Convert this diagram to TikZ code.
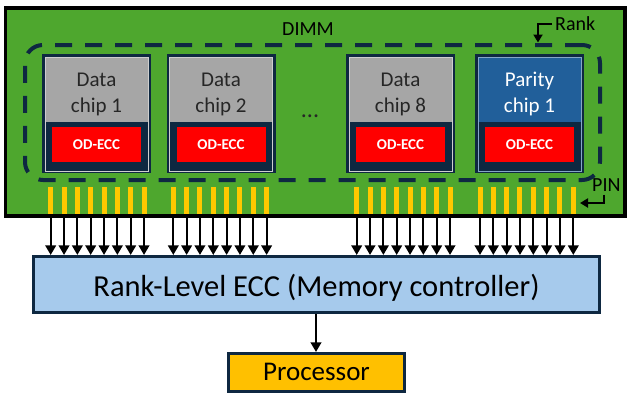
\documentclass[tikz,border=0pt]{standalone}
\usepackage{fontspec}
\setmainfont{Carlito}
\usetikzlibrary{arrows.meta}

\definecolor{boardgreen}{HTML}{4EA72E}
\definecolor{navy}{HTML}{0E2841}
\definecolor{chipgray}{HTML}{A6A6A6}
\definecolor{paritublue}{HTML}{215F9A}
\definecolor{eccblue}{HTML}{A6CAEC}
\definecolor{procorange}{HTML}{FFC000}
\definecolor{pinyellow}{HTML}{FFC800}
\definecolor{chiptext}{HTML}{262626}

\tikzset{
  board/.style={draw=black, line width=3.5pt, fill=boardgreen, inner sep=0pt,
    minimum width=619.3pt, minimum height=207.8pt},
  rankbox/.style={draw=navy, line width=4pt, dash pattern=on 17pt off 13pt,
    rounded corners=18pt, inner sep=0pt, minimum width=575pt, minimum height=135pt},
  chipframe/.style={fill=navy, inner sep=0pt, outer sep=0pt,
    minimum width=109pt, minimum height=119pt},
  chipinner/.style={fill=navy, line width=0.8pt, inner sep=0pt, outer sep=0pt,
    minimum width=103pt, minimum height=114pt},
  chiptop/.style={inner sep=0pt, outer sep=0pt, minimum width=102pt, minimum height=64.5pt},
  odecc/.style={fill=red, text=white, inner sep=0pt, minimum width=89pt, minimum height=35pt,
    font=\fontsize{15}{18}\selectfont\bfseries},
  chiplabel/.style={align=center, inner sep=0pt, font=\fontsize{21}{26}\selectfont},
  pinbar/.style={fill=pinyellow, inner sep=0pt, outer sep=0pt, minimum width=5pt, minimum height=27pt},
  bus/.style={line width=2pt, -{Triangle[width=10.5pt,length=9.5pt]}},
  pointer/.style={line width=2pt, -{Triangle[width=9pt,length=8pt]}},
  unitbox/.style={draw=navy, line width=3.5pt, inner sep=0pt},
  lbl/.style={inner sep=0pt, font=\fontsize{20}{24}\selectfont},
}

\begin{document}
\begin{tikzpicture}[x=1pt, y=-1pt]
\useasboundingbox (0,0) rectangle (627,394);

% memory module board
\node[board] (dimm) at (315.35,111.9) {};
\node[lbl, anchor=base] (dimmlbl) at (308,35) {DIMM};

% rank outline
\node[rankbox] (rank) at (312.5,112.5) {};
\node[lbl, anchor=base west] (ranklbl) at (555,30) {Rank};
\coordinate (rankfrom) at (552,23.5);
\coordinate (rankto) at (538,42.5);
\draw[pointer] (rankfrom) -| (rankto);

% DRAM chips
\foreach \cx/\nm/\la/\lb/\fc/\tc in {
    96.5/c1/Data/chip 1/chipgray/chiptext,
    221/c2/Data/chip 2/chipgray/chiptext,
    400.5/c8/Data/chip 8/chipgray/chiptext,
    529.5/cp/Parity/chip 1/paritublue/white} {
  \node[chipframe] (\nm) at (\cx,113.5) {};
  \node[chipinner, draw=\fc!55!white] (\nm-in) at (\cx,114) {};
  \node[chiptop, fill=\fc] (\nm-top) at (\cx,89.75) {};
  \node[odecc] (\nm-ecc) at (\cx,144.5) {OD-ECC};
  \node[chiplabel, text=chiptext, text=\tc] (\nm-lbl) at (\cx,94) {\la\\\lb};
}
\node[inner sep=0pt, text=chiptext, font=\fontsize{24}{28}\selectfont] (dots) at (310,116) {...};

% rank-level ECC and processor
\node[unitbox, fill=eccblue, minimum width=565.6pt, minimum height=55.6pt] (ecc) at (316.5,284.5) {};
\node[inner sep=0pt, anchor=base, font=\fontsize{30.5}{36}\selectfont] (ecclbl) at (316.5,296)
  {Rank-Level ECC (Memory controller)};
\node[unitbox, fill=procorange, minimum width=175.6pt, minimum height=37.6pt] (proc) at (316.5,372.5) {};
\node[inner sep=0pt, anchor=base, font=\fontsize{27}{32}\selectfont] (proclbl) at (316.5,380) {Processor};
\draw[bus] (ecc.south -| 316,0) -- (proc.north -| 316,0);

% pins and data lines
\foreach \g/\xs in {1/50.7, 2/173.3, 3/356.7, 4/480} {
  \foreach \k in {0,...,7} {
    \node[pinbar] (p\g-\k) at ({\xs+13.33*\k},200.5) {};
    \draw[bus] (p\g-\k.south |- dimm.south) -- (p\g-\k.south |- ecc.north);
  }
}

% pin label
\node[lbl, anchor=base west] (pinlbl) at (592,191.7) {PIN};
\coordinate (pinfrom) at (604,194.5);
\coordinate (pinto) at (580,203);
\draw[pointer] (pinfrom) |- (pinto);
\end{tikzpicture}
\end{document}
